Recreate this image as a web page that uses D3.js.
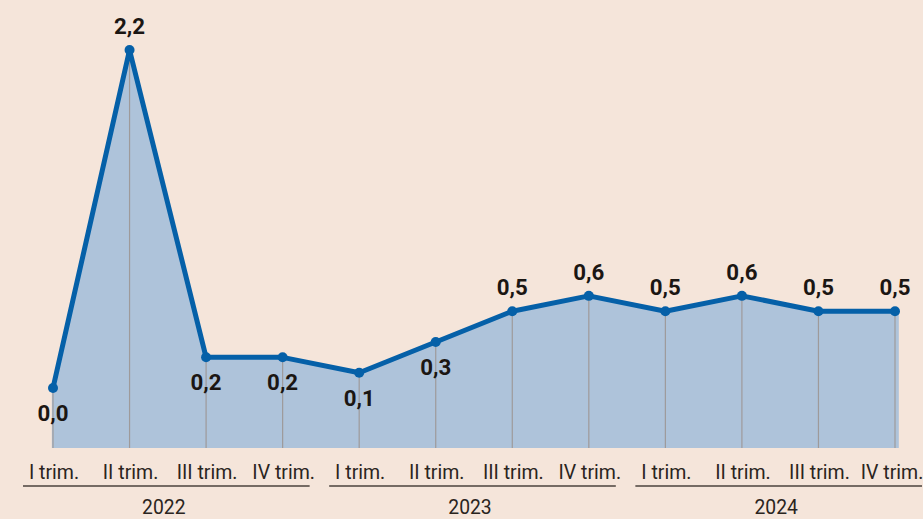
<!DOCTYPE html>
<html>
<head>
<meta charset="utf-8">
<script src="https://cdn.jsdelivr.net/npm/d3@7"></script>
<style>
  body { margin: 0; background: #f5e5da; }
  svg { display: block; }
</style>
</head>
<body>
<svg id="chart" width="923" height="519"></svg>
<script>
// values per quarter (variazione %)
const quarters = ["I trim.", "II trim.", "III trim.", "IV trim."];
const years = ["2022", "2023", "2024"];
const values = [0.0, 2.2, 0.2, 0.2, 0.1, 0.3, 0.5, 0.6, 0.5, 0.6, 0.5, 0.5];
const labelBelow = [true, false, true, true, true, true, false, false, false, false, false, false];

const svg = d3.select("#chart");
const W = 923, H = 519;
const FONT = "Roboto, 'Liberation Sans', sans-serif";

const data = values.map((v, i) => ({
  i: i, v: v,
  year: years[Math.floor(i / 4)],
  q: quarters[i % 4],
  below: labelBelow[i]
}));

let x = d3.scaleLinear().domain([0, 11]).range([53, 895]);
let y = d3.scaleLinear().domain([-0.39, 2.2]).range([448, 50]);

svg.append("rect").attr("width", W).attr("height", H).attr("fill", "#f5e5da");

// area under the line
let area = d3.area()
  .x(d => x(d.i))
  .y0(y(-0.39))
  .y1(d => y(d.v));

let areaData = [{i: -0.015, v: values[0]}].concat(data)
  .concat([{i: 11.05, v: values[11]}]);
svg.append("path")
  .datum(areaData)
  .attr("d", area)
  .attr("fill", "#aec3da");

// vertical grey lines
svg.append("g").selectAll("line")
  .data(data)
  .enter().append("line")
    .attr("x1", d => x(d.i)).attr("x2", d => x(d.i))
    .attr("y1", d => y(d.v)).attr("y2", y(-0.39))
    .attr("stroke", "#9e9a9a")
    .attr("stroke-width", 1.2);

// the line
svg.append("path")
  .datum(data)
  .attr("d", d3.line().x(d => x(d.i)).y(d => y(d.v)))
  .attr("fill", "none")
  .attr("stroke", "#0560a8")
  .attr("stroke-width", 5)
  .attr("stroke-linejoin", "round");

svg.append("g").selectAll("circle")
  .data(data)
  .enter().append("circle")
    .attr("cx", d => x(d.i))
    .attr("cy", d => y(d.v))
    .attr("r", 5)
    .attr("fill", "#0560a8");

// value labels
svg.append("g").selectAll("text")
  .data(data)
  .enter().append("text")
    .attr("transform", d => `translate(${x(d.i)},${d.below ? y(d.v) + 33 : y(d.v) - 16}) scale(0.97,1)`)
    .attr("text-anchor", "middle")
    .attr("font-family", FONT)
    .attr("font-weight", "bold")
    .attr("font-size", 23)
    .attr("fill", "#1b1613")
    .text(d => d3.format(".1f")(d.v).replace(".", ","));

// quarter tick labels
svg.append("g").selectAll("text")
  .data(data)
  .enter().append("text")
    .attr("transform", d => `translate(${x(d.i) + (d.i === 11 ? -3 : 1)},479) scale(0.93,1)`)
    .attr("text-anchor", "middle")
    .attr("font-family", FONT)
    .attr("font-size", 21)
    .attr("fill", "#2a2420")
    .text(d => d.q);

// year groups
let yearG = svg.append("g").selectAll("g")
  .data(years)
  .enter().append("g");

yearG.append("line")
  .attr("x1", (d, k) => x(k * 4) - 30)
  .attr("x2", (d, k) => x(k * 4 + 3) + 27)
  .attr("y1", 486).attr("y2", 486)
  .attr("stroke", "#4a423c")
  .attr("stroke-width", 1.6);

yearG.append("text")
  .attr("transform", (d, k) => `translate(${(x(k * 4) + x(k * 4 + 3)) / 2 - 4},514) scale(0.92,1)`)
  .attr("text-anchor", "middle")
  .attr("font-family", FONT)
  .attr("font-size", 21)
  .attr("fill", "#2a2420")
  .text(d => d);
</script>
</body>
</html>
